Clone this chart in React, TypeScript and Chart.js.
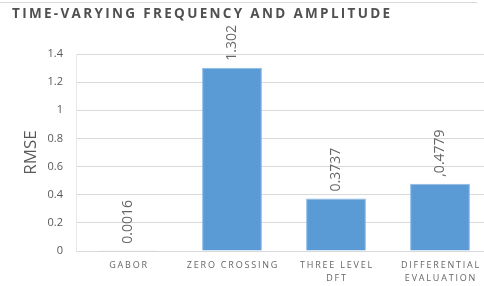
import React, { useEffect, useRef } from 'react';
import { Chart, registerables } from 'chart.js';

Chart.register(...registerables);

const chartTitle = 'TIME-VARYING FREQUENCY AND AMPLITUDE';
const yAxisTitle = 'RMSE';
const categories: string[][] = [['GABOR'], ['ZERO CROSSING'], ['THREE LEVEL', 'DFT'], ['DIFFERENTIAL', 'EVALUATION']];
const rmseValues = [0.0016, 1.302, 0.3737, 0.4779];
const valueLabels = ['0.0016', '1.302', '0.3737', ',0.4779'];
const yTicks = [0, 0.2, 0.4, 0.6, 0.8, 1, 1.2, 1.4];

const GRAY = '#595959';

const decorPlugin = {
  id: 'decor',
  afterDraw(chart: any) {
    const ctx = chart.ctx as CanvasRenderingContext2D & { letterSpacing?: string };
    const xs = chart.scales.x;
    ctx.save();
    // thin frame line at top
    ctx.strokeStyle = '#d9d9d9';
    ctx.lineWidth = 1;
    ctx.beginPath();
    ctx.moveTo(0, 2.5);
    ctx.lineTo(477, 2.5);
    ctx.stroke();

    // title
    ctx.fillStyle = '#505050';
    ctx.letterSpacing = '0px';
    ctx.font = 'bold 13.5px "Open Sans"';
    ctx.textAlign = 'left';
    ctx.textBaseline = 'alphabetic';
    const w0 = ctx.measureText(chartTitle).width;
    const sp = (378 - w0) / (chartTitle.length - 1);
    ctx.letterSpacing = sp.toFixed(2) + 'px';
    ctx.fillText(chartTitle, 12, 18);

    // category labels
    ctx.font = '9px "Open Sans"';
    ctx.letterSpacing = '1.8px';
    ctx.textAlign = 'center';
    ctx.fillStyle = '#666666';
    categories.forEach((lines, i) => {
      const cx = xs.getPixelForTick(i);
      lines.forEach((ln, j) => ctx.fillText(ln, cx + 1, 268 + j * 13));
    });

    // value labels (rotated)
    ctx.letterSpacing = '0px';
    ctx.font = '14px "Open Sans"';
    ctx.fillStyle = '#666666';
    const meta = chart.getDatasetMeta(0);
    meta.data.forEach((bar: any, i: number) => {
      ctx.save();
      ctx.translate(bar.x, bar.y - 7);
      ctx.rotate(-Math.PI / 2);
      ctx.textAlign = 'left';
      ctx.textBaseline = 'middle';
      ctx.fillText(valueLabels[i], 0, 0);
      ctx.restore();
    });
    ctx.restore();
  },
};

export default function App() {
  const ref = useRef<HTMLCanvasElement>(null);
  useEffect(() => {
    if (!ref.current) return;
    const chart = new Chart(ref.current, {
      type: 'bar',
      data: {
        labels: categories.map((c) => c.join(' ')),
        datasets: [
          {
            data: rmseValues,
            backgroundColor: '#5b9bd5',
            borderColor: '#8db9e4',
            borderWidth: 1,
            categoryPercentage: 1,
            barPercentage: 0.575,
          },
        ],
      },
      options: {
        animation: false,
        responsive: false,
        layout: { padding: { top: 54, left: 0, right: 0, bottom: 0 } },
        plugins: { legend: { display: false }, tooltip: { enabled: false }, title: { display: false } },
        scales: {
          x: {
            ticks: { display: false },
            grid: { display: false },
            border: { display: true, color: '#d9d9d9', width: 1 },
            afterFit: (s: any) => {
              s.height = 35;
            },
          },
          y: {
            min: 0,
            max: 1.4,
            afterBuildTicks: (s: any) => {
              s.ticks = yTicks.map((v) => ({ value: v }));
            },
            ticks: {
              padding: 13,
              color: GRAY,
              font: { family: '"Open Sans"', size: 11 },
              callback: (v: any) => String(Number(Number(v).toFixed(1))),
            },
            grid: { color: '#d9d9d9', drawTicks: false },
            border: { display: true, color: '#e8e8e8' },
            title: {
              display: true,
              text: yAxisTitle,
              color: GRAY,
              font: { family: '"Open Sans"', size: 17 },
              padding: { top: 21, bottom: 0 },
            },
            afterFit: (s: any) => {
              s.width = 76;
            },
          },
        },
      },
      plugins: [decorPlugin],
    });
    return () => chart.destroy();
  }, []);
  return (
    <div style={{ position: 'fixed', left: 0, top: 0, width: 484, height: 286, overflow: 'hidden', background: '#fff' }}>
      <canvas ref={ref} width={492} height={286} style={{ display: 'block', width: 492, height: 286 }} />
    </div>
  );
}
